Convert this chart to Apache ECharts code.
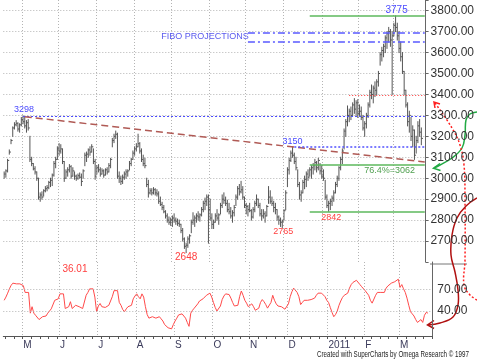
<!DOCTYPE html>
<html><head><meta charset="utf-8">
<script src="https://cdn.jsdelivr.net/npm/echarts@6/dist/echarts.min.js"></script>
<style>html,body{margin:0;padding:0;background:#fff}#c{width:477px;height:363px}</style>
</head><body><div id="c"></div>
<script>
// trading-day categories: weekdays from 2010-04-16 to 2011-03-25
const firstDay = [2010, 3, 16];
const lastDay = [2011, 2, 25];
const monthLetters = {'05':'M','06':'J','07':'J','08':'A','09':'S','10':'O','11':'N','12':'D','01':'2011','02':'F','03':'M'};

const highs = [3030,3040,3090,3135,3185,3245,3265,3275,3265,3260,
3290,3298,3290,3275,3280,3200,3100,3070,3055,3030,
3000,2930,2935,2945,2960,2965,2985,3000,3020,3080,
3100,3150,3165,3160,3140,3080,3040,3050,3065,3060,
3050,3030,3015,3020,3025,3020,3040,3120,3125,3140,
3150,3160,3140,3090,3060,3065,3050,3045,3040,3045,
3050,3070,3095,3190,3210,3225,3215,3030,3010,3015,
3030,3040,3040,3080,3095,3130,3150,3165,3210,3170,
3140,3110,3095,3000,2990,2950,2950,2955,2950,2945,
2935,2910,2885,2870,2845,2830,2815,2810,2820,2830,
2810,2805,2800,2780,2760,2715,2690,2720,2730,2800,
2835,2820,2830,2840,2830,2860,2890,2905,2920,2920,
2900,2830,2800,2830,2850,2830,2880,2920,2930,2910,
2895,2880,2860,2845,2870,2920,2960,2970,2985,2960,
2910,2880,2870,2880,2850,2860,2890,2920,2900,2880,
2850,2850,2840,2870,2960,2940,2910,2890,2880,2850,
2820,2810,2800,2850,2940,3050,3095,3130,3150,3120,
3100,3040,2980,2940,2990,3010,3030,3040,3050,3060,
3070,3090,3080,3095,3070,3060,3040,2990,2920,2890,
2900,2915,2940,2980,3010,3055,3100,3140,3235,3280,
3345,3330,3340,3360,3380,3370,3375,3350,3340,3300,
3270,3310,3360,3420,3445,3440,3460,3470,3510,3600,
3625,3640,3680,3700,3720,3710,3700,3740,3775,3740,
3700,3650,3600,3510,3420,3360,3320,3290,3250,3230,
3200,3270,3280,3240];

const lows = [3000,3005,3030,3115,3165,3200,3235,3250,3225,3220,
3250,3260,3240,3220,3230,3080,3060,3040,3020,2990,
2900,2890,2900,2915,2935,2940,2950,2960,2965,3010,
3050,3090,3110,3120,3070,2985,3000,3010,3030,3000,
3010,2995,2990,2995,3000,2965,3000,3060,3080,3100,
3110,3125,3070,2995,3020,3030,3010,3020,3005,3015,
3020,3030,3050,3150,3170,3190,3000,2980,2970,2975,
2995,3000,3010,3040,3060,3090,3110,3130,3150,3120,
3080,3060,3050,2960,2910,2925,2920,2925,2920,2915,
2880,2870,2850,2835,2810,2790,2780,2775,2770,2790,
2780,2775,2770,2740,2700,2665,2645,2670,2690,2740,
2780,2770,2790,2800,2795,2820,2840,2850,2870,2690,
2800,2760,2760,2790,2800,2780,2830,2860,2880,2870,
2840,2830,2810,2790,2820,2870,2900,2920,2930,2900,
2860,2830,2820,2840,2800,2810,2840,2870,2860,2820,
2800,2810,2790,2820,2880,2880,2870,2840,2830,2800,
2780,2770,2765,2800,2850,2960,3020,3080,3100,3070,
3040,2960,2900,2890,2930,2950,2960,2990,3010,3000,
3020,3040,3030,3040,3020,3000,2990,2900,2860,2842,
2850,2870,2890,2930,2960,2990,3040,3070,3140,3200,
3250,3270,3280,3300,3310,3300,3290,3300,3280,3230,
3200,3240,3290,3340,3380,3360,3390,3400,3440,3540,
3560,3580,3600,3620,3650,3630,3400,3680,3700,3660,
3600,3560,3500,3400,3340,3250,3220,3180,3150,3090,
3120,3170,3200,3160];

const closes = [3020,3035,3085,3125,3180,3240,3255,3262,3235,3255,
3280,3270,3250,3265,3240,3090,3070,3045,3030,3000,
2910,2920,2910,2940,2950,2955,2980,2990,3015,3070,
3090,3140,3130,3140,3080,3000,3030,3040,3055,3010,
3035,3010,3000,3012,3005,2985,3035,3110,3115,3135,
3125,3150,3080,3010,3050,3040,3020,3035,3015,3040,
3030,3060,3090,3180,3200,3210,3010,3000,2985,3005,
3020,3030,3035,3070,3090,3120,3140,3150,3165,3130,
3090,3070,3060,2970,2930,2940,2930,2945,2930,2925,
2890,2875,2860,2840,2820,2800,2790,2800,2810,2800,
2795,2785,2780,2750,2710,2675,2680,2710,2725,2790,
2800,2810,2820,2815,2825,2850,2880,2890,2910,2850,
2810,2780,2790,2820,2810,2825,2870,2900,2895,2880,
2850,2840,2820,2835,2860,2910,2950,2935,2945,2910,
2870,2865,2850,2845,2815,2850,2880,2900,2870,2830,
2820,2830,2820,2865,2910,2890,2880,2860,2850,2815,
2800,2790,2795,2845,2930,3040,3085,3120,3110,3080,
3050,2970,2920,2930,2980,2995,3020,3005,3040,3050,
3060,3075,3050,3085,3035,3010,3000,2910,2870,2880,
2890,2905,2930,2970,3000,3050,3090,3130,3225,3270,
3300,3320,3300,3350,3330,3360,3310,3320,3290,3240,
3260,3300,3350,3410,3400,3430,3420,3460,3500,3590,
3610,3630,3670,3690,3700,3660,3680,3730,3720,3680,
3620,3580,3510,3420,3350,3270,3300,3200,3230,3110,
3180,3250,3220,3190];

const rsi = [55,59.5,65,71,76,79,79,78,75.5,78,
77,75.5,66,67,66,37,46,37,34,32,
28,30,32,32,33,37,40,43,44.5,55,
56,57,64,66,64,43.5,45,46,53,43.5,
46,48,46,46,45,43.5,46,62,66,71,
69.5,71,59.5,39,47,50.5,46,46,45,46,
48,50.5,60,68.5,69.5,68.5,52,48,42,39,
43,46,47,48,57,61,64,60,57,64,
59.5,46,35,30,31,32,31,30,31,32,
29,26,21,19,16.5,15.5,15,21,26,30,
34.5,32,36,35,30,24,18.5,37,41,44,
47,50,54,55,57,59,62,64,65,59.5,
52,45,40,42,47,56,61,64,65,63,
58,52,47,45,48,60,68,62,55,51,
46,48,50,46,41,42,44,52,56,53,
49,44,46,52,62,55,50,47,46,46,
44,42.5,41,50,60,67,72,71,66,60,
49,52,55,53,55,57,56,55,58,62,
65,66,65,65,60,55,52,45,38,32,
35,40,48,54,59,62,63,65,72,77,
80,82,83,82,77,74,75.5,68.5,71,62,
55,51,53,62,66,65,66,68,66,72,
75,77,79,80,81,83,84.5,73,77,71,
66,58,48,39,36,33,28,24,26,28,
24,34,38,37];

// annotation levels
const level3298 = 3298, level3150 = 3150, level3775 = 3775, level3062 = 3062, level2842 = 2842;
const fiboLevels = [3694, 3652];
const redLevel = 3397;
const trendStart = [12, 3294], trendEnd = [245, 3078];

// build categories
const dates = [];
{
  const d = new Date(Date.UTC(firstDay[0], firstDay[1], firstDay[2]));
  const end = new Date(Date.UTC(lastDay[0], lastDay[1], lastDay[2]));
  while (d <= end) {
    const w = d.getUTCDay();
    if (w !== 0 && w !== 6) dates.push(d.toISOString().slice(0, 10));
    d.setUTCDate(d.getUTCDate() + 1);
  }
}
const isMonthStart = (i) => i > 0 && dates[i].slice(5, 7) !== dates[i - 1].slice(5, 7);
const isMonday = (i) => new Date(dates[i] + 'T00:00:00Z').getUTCDay() === 1;
const last = dates.length - 1;

const bars = highs.map((h, i) => [i, h, lows[i], closes[i]]);
const FONT = 'Liberation Sans, Arial, sans-serif';
const GRID_C = '#b4b4b4';

const seg = (x1, y1, x2, y2, style) => [{coord: [x1, y1], lineStyle: style}, {coord: [x2, y2]}];
const txt = (x, y, text, color, size, off) => ({
  coord: [x, y], symbolSize: 0,
  label: {show: true, position: 'inside', formatter: text, color: color, fontSize: size, fontFamily: FONT, offset: off}
});

const chart = echarts.init(document.getElementById('c'), null, {renderer: 'canvas'});
chart.setOption({
  animation: false,
  backgroundColor: '#fff',
  grid: [
    {left: 3.3, width: 429, top: 0, height: 262},
    {left: 3.3, width: 429, top: 262, height: 74}
  ],
  xAxis: [
    {type: 'category', gridIndex: 0, data: dates, boundaryGap: true,
     axisLine: {show: false}, axisTick: {show: false}, axisLabel: {show: false},
     splitLine: {show: true, interval: (i) => isMonthStart(i), lineStyle: {color: GRID_C, type: [1, 2]}}},
    {type: 'category', gridIndex: 1, data: dates, boundaryGap: true,
     axisLine: {show: true, lineStyle: {color: '#555', width: 1}},
     axisTick: {show: true, interval: (i) => isMonday(i), length: 3, lineStyle: {color: '#555'}},
     axisLabel: {show: true, interval: (i) => isMonthStart(i), formatter: (v) => monthLetters[v.slice(5, 7)],
                 color: '#3a3a5a', fontSize: 10, fontFamily: FONT, align: 'left', margin: 4},
     splitLine: {show: true, interval: (i) => isMonthStart(i), lineStyle: {color: GRID_C, type: [1, 2]}}}
  ],
  yAxis: [
    {type: 'value', gridIndex: 0, position: 'right', min: 2600, max: 3851, interval: 100,
     axisLine: {show: true, lineStyle: {color: '#666', width: 1}},
     axisTick: {show: true, length: 3, lineStyle: {color: '#666'}},
     axisLabel: {color: '#333', fontSize: 12, fontFamily: FONT, margin: 5,
                 formatter: (v) => (v % 100 === 0 && v >= 2700 && v <= 3800) ? v.toFixed(2) : ''},
     splitLine: {show: true, showMinLine: false, showMaxLine: false, lineStyle: {color: GRID_C, type: [1, 2]}}},
    {type: 'value', gridIndex: 1, position: 'right', min: 5, max: 108.6, interval: 5,
     axisLine: {show: true, lineStyle: {color: '#666', width: 1}},
     axisTick: {show: false},
     axisLabel: {color: '#333', fontSize: 12, fontFamily: FONT, margin: 5,
                 formatter: (v) => (v === 40 || v === 70) ? v.toFixed(2) : ''},
     splitLine: {show: false}}
  ],
  series: [
    {type: 'custom', name: 'price', xAxisIndex: 0, yAxisIndex: 0, data: bars, encode: {x: 0, y: [1, 2]},
     silent: true,
     renderItem: (params, api) => {
       const i = api.value(0);
       const hi = api.coord([i, api.value(1)]);
       const lo = api.coord([i, api.value(2)]);
       const cl = api.coord([i, api.value(3)]);
       const st = {stroke: '#555', lineWidth: 1};
       return {type: 'group', children: [
         {type: 'line', shape: {x1: hi[0], y1: hi[1] - 0.5, x2: lo[0], y2: lo[1] + 0.5}, style: st},
         {type: 'line', shape: {x1: cl[0], y1: cl[1], x2: cl[0] + 1.6, y2: cl[1]}, style: st}
       ]};
     }},
    {type: 'line', name: 'annot', xAxisIndex: 0, yAxisIndex: 0, data: closes, symbol: 'none', silent: true,
     lineStyle: {opacity: 0}, z: 5,
     markLine: {silent: true, symbol: ['none', 'none'], label: {show: false}, animation: false,
       data: [
         seg(11, level3298, last, level3298, {color: '#4a4aff', type: [2, 2], width: 1}),
         seg(trendStart[0], trendStart[1], trendEnd[0], trendEnd[1], {color: '#b05a55', type: [7, 4], width: 1.5}),
         seg(142, fiboLevels[0], last, fiboLevels[0], {color: '#5a5aff', type: [7, 3, 2, 3], width: 1.5}),
         seg(142, fiboLevels[1], last, fiboLevels[1], {color: '#5a5aff', type: [7, 3, 2, 3], width: 1.5}),
         seg(178, level3775, last, level3775, {color: '#5cb85c', type: 'solid', width: 1.5}),
         seg(178, level3062, last, level3062, {color: '#5cb85c', type: 'solid', width: 1.5}),
         seg(178, level2842, last, level2842, {color: '#5cb85c', type: 'solid', width: 1.5}),
         seg(169, level3150, last, level3150, {color: '#5050ff', type: [2, 2], width: 1.5}),
         seg(201, redLevel, last, redLevel, {color: '#ff3030', type: [1, 2], width: 1})
       ]},
     markPoint: {silent: true, animation: false,
       data: [
         txt(11, level3298, '3298', '#4a4aff', 9, [1, -6]),
         txt(117, 3677, 'FIBO PROJECTIONS', '#5a5aee', 9, [0, 0]),
         txt(228, level3775, '3775', '#4a4aff', 10, [1, -6]),
         txt(168, level3150, '3150', '#4a4aff', 9, [0, -5]),
         txt(224, level3062, '76.4%=3062', '#4f9f4f', 9, [1, 5]),
         txt(190, level2842, '2842', '#ff4040', 9, [1, 6]),
         txt(106, 2645, '2648', '#ff4040', 10, [0, 5]),
         txt(162, 2765, '2765', '#ff4040', 9, [1, 4])
       ]}},
    {type: 'line', name: 'rsi', xAxisIndex: 1, yAxisIndex: 1, data: rsi, symbol: 'none', silent: true,
     lineStyle: {color: '#ff4a4a', width: 1},
     markLine: {silent: true, symbol: ['none', 'none'], label: {show: false}, animation: false,
       lineStyle: {color: GRID_C, type: [1, 2], width: 1},
       data: [{yAxis: 40}, {yAxis: 70}]},
     markPoint: {silent: true, animation: false,
       data: [txt(40, 98, '36.01', '#ff4040', 10, [1, 0])]}}
  ],
  graphic: [
    {type: 'line', shape: {x1: 430, y1: 264, x2: 467, y2: 264}, style: {stroke: '#777', lineWidth: 1}},
    // green curved arrow
    {type: 'polyline', shape: {points: [[477,112],[470,114],[466,120],[465,135],[462,148],[452,158],[440,165],[434,168]], smooth: 0.4},
     style: {stroke: '#22aa44', lineWidth: 1.5, fill: null}},
    {type: 'polyline', shape: {points: [[440,163.5],[433.5,168.3],[440.5,170.5]]}, style: {stroke: '#22aa44', lineWidth: 1.5, fill: null}},
    // red dotted curved arrow
    {type: 'polyline', shape: {points: [[477,300],[470,295],[464,285],[465,260],[465,200],[464,165],[460,145],[452,128],[435,103]], smooth: 0.4},
     style: {stroke: '#ff2020', lineWidth: 1.5, lineDash: [2, 2], fill: null}},
    {type: 'polyline', shape: {points: [[435,108],[434,102],[440,104]]}, style: {stroke: '#ff2020', lineWidth: 1.5, fill: null}},
    // dark red curved arrow
    {type: 'polyline', shape: {points: [[477,198],[466,206],[457,218],[452,235],[451,255],[455,272],[458,290],[458,305],[453,317],[440,323],[428,325]], smooth: 0.4},
     style: {stroke: '#b01010', lineWidth: 1.5, fill: null}},
    {type: 'polyline', shape: {points: [[434,320.5],[427.5,325],[434,328.5]]}, style: {stroke: '#b01010', lineWidth: 1.5, fill: null}},
    {type: 'text', x: 317, y: 350, scaleX: 0.73, scaleY: 1,
     style: {text: 'Created with SuperCharts by Omega Research \u00a9 1997', fill: '#222', font: '8.5px ' + FONT}}
  ]
});
</script></body></html>
